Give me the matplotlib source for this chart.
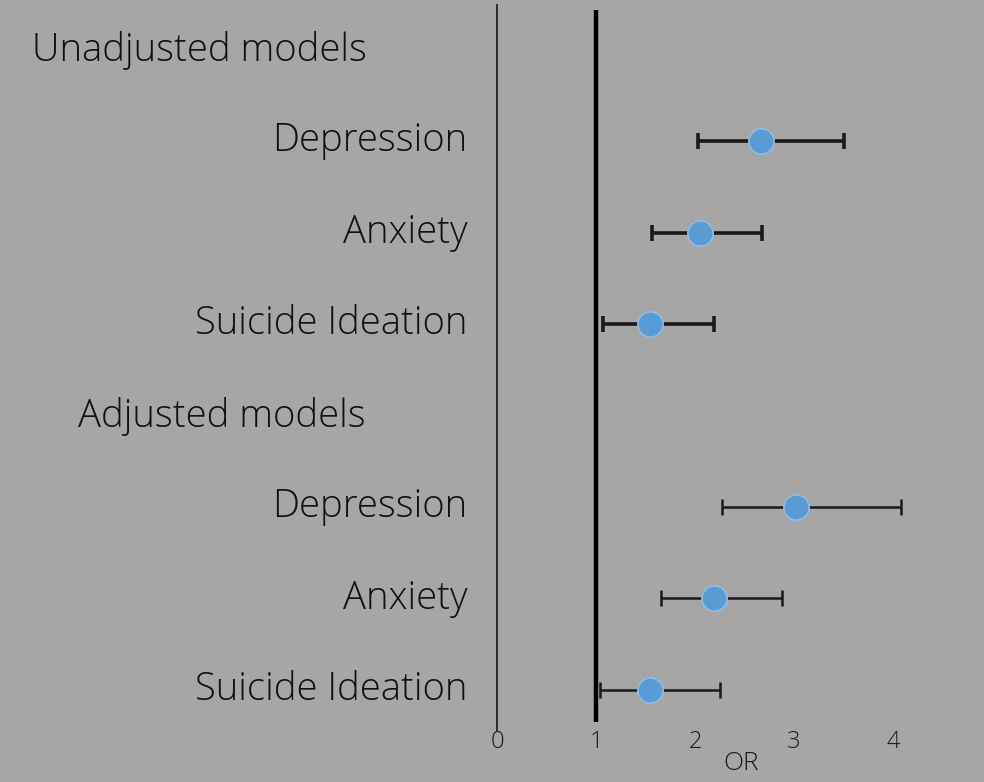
import numpy as np
import matplotlib
matplotlib.use("Agg")
import matplotlib.pyplot as plt

# Odds ratios with 95% CI
groups = ["Unadjusted models", "Adjusted models"]
outcomes = ["Depression", "Anxiety", "Suicide Ideation"]
unadj_or = [2.67, 2.05, 1.55]
unadj_lo = [2.03, 1.57, 1.07]
unadj_hi = [3.51, 2.68, 2.19]
adj_or = [3.02, 2.19, 1.55]
adj_lo = [2.27, 1.66, 1.04]
adj_hi = [4.08, 2.88, 2.25]
xticks = [0, 1, 2, 3, 4]

BG = '#a6a6a6'
DOT = '#5b9bd5'
TXT = '#111111'
FONT = ['Open Sans', 'DejaVu Sans']
W = 300  # light weight
PX = 99.0  # pixels per OR unit
FS = 27.5

plt.rcParams['font.family'] = FONT

fig = plt.figure(figsize=(9.84, 7.82), dpi=100, facecolor=BG)
ax = fig.add_axes([497 / 984, 1 - 730 / 782, 1 - 497 / 984, 725 / 782])
ax.set_facecolor(BG)

rows_unadj = np.array([1, 2, 3])
rows_adj = np.array([5, 6, 7])


def draw(rows, ors, lo, hi, lw):
    ors = np.array(ors)
    err = [ors - np.array(lo), np.array(hi) - ors]
    ax.errorbar(ors, rows, xerr=err, fmt='none', ecolor='#1a1a1a',
                elinewidth=lw, capsize=6, capthick=lw, zorder=3)
    ax.scatter(ors, rows, s=330, color=DOT, edgecolors='#8fbce6',
               linewidths=1.2, zorder=4)


draw(rows_unadj, unadj_or, unadj_lo, unadj_hi, 2.6)
draw(rows_adj, adj_or, adj_lo, adj_hi, 1.8)

# reference line at OR = 1
ax.vlines(1, -0.44, 7.35, color='black', linewidth=3.2, zorder=2)

ax.set_xlim(0, 487 / PX)
ax.set_ylim(7.44, -0.49)

for s in ['top', 'right', 'bottom']:
    ax.spines[s].set_visible(False)
ax.spines['left'].set_linewidth(1.3)
ax.spines['left'].set_color('#222222')
ax.set_yticks([])
ax.set_xticks(xticks)
ax.tick_params(axis='x', length=0, pad=0, labelsize=17, labelcolor='#1a1a1a')
for lab in ax.get_xticklabels():
    lab.set_fontweight(W)

ax.set_xlabel('OR', fontsize=19, color='#1a1a1a', labelpad=0, fontweight=W)
ax.xaxis.set_label_coords((741 - 497) / 487, -0.029)

# row labels
for r, name in zip(rows_unadj, outcomes):
    ax.text(-30 / PX, r, name, ha='right', va='center', fontsize=FS,
            color=TXT, fontweight=W)
for r, name in zip(rows_adj, outcomes):
    ax.text(-30 / PX, r, name, ha='right', va='center', fontsize=FS,
            color=TXT, fontweight=W)

fig.text(32 / 984, 1 - 50 / 782, groups[0], ha='left', va='center',
         fontsize=FS, color=TXT, fontweight=W)
fig.text(78 / 984, 1 - 416 / 782, groups[1], ha='left', va='center',
         fontsize=FS, color=TXT, fontweight=W)

fig.savefig('out.png', dpi=100, facecolor=BG)
